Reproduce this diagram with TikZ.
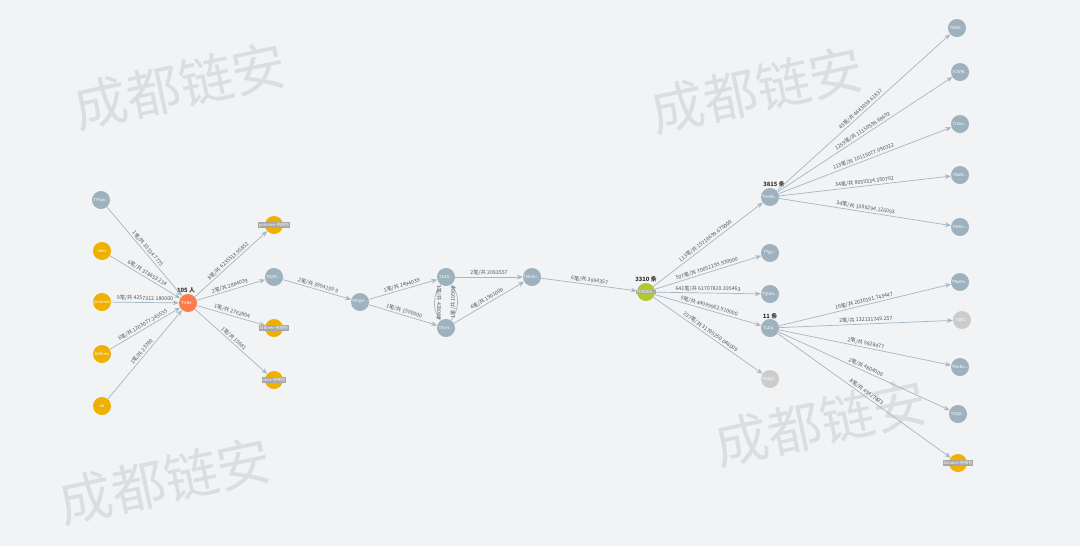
\documentclass[tikz,border=0pt]{standalone}
\usepackage{fontspec}
\setmainfont{Noto Sans CJK SC}
\usepackage{xcolor}
\definecolor{bgpage}{HTML}{F2F3F5}
\definecolor{addr}{HTML}{9DB1BE}
\definecolor{exch}{HTML}{F0B000}
\definecolor{target}{HTML}{FA7D4B}
\definecolor{hub}{HTML}{B3C72F}
\definecolor{unknown}{HTML}{CCCCCC}
\definecolor{flow}{HTML}{A3B7C4}
\definecolor{wmark}{HTML}{DCDDE0}
\definecolor{lbltext}{HTML}{555555}
\usetikzlibrary{arrows.meta}

\newcommand{\txn}[2]{#1笔/共 #2}
\newcommand{\tagbox}[1]{\makebox[0pt]{\setlength{\fboxsep}{0.6pt}\colorbox{black!35}{#1}}}

\begin{document}
\begin{tikzpicture}[x=0.03cm, y=-0.03cm, >=Stealth,
  wallet/.style={circle, minimum size=0.54cm, inner sep=0pt, text=white,
    font=\fontsize{3.5}{4}\selectfont},
  addrnode/.style={wallet, fill=addr},
  exchnode/.style={wallet, fill=exch},
  greynode/.style={wallet, fill=unknown},
  flowline/.style={draw=flow, line width=0.6pt, -{Stealth[length=5pt, width=4pt]}},
  amount/.style={midway, sloped, above, inner sep=1pt, text=lbltext,
    font=\fontsize{4.5}{5}\selectfont},
  count/.style={font=\fontsize{5}{6}\selectfont\bfseries, text=black!80},
  watermark/.style={rotate=12, text=wmark, font=\fontsize{46}{50}\selectfont}]

  \fill[bgpage] (0,0) rectangle (1080,546);
  \useasboundingbox (0,0) rectangle (1080,546);

  % Watermarks
  \node[watermark] (wm1) at (180,86)  {成都链安};
  \node[watermark] (wm2) at (757,90)  {成都链安};
  \node[watermark] (wm3) at (165,481) {成都链安};
  \node[watermark] (wm4) at (821,423) {成都链安};

  % Senders
  \node[addrnode] (tyk)  at (101,200) {TYKjw...};
  \node[exchnode] (okex) at (102,251) {okex};
  \node[exchnode] (polo) at (102,302) {poloniex};
  \node[exchnode] (bitf) at (102,354) {bitfinex};
  \node[exchnode] (ok)   at (102,406) {ok};

  % Target
  \node[wallet, fill=target] (tub) at (188,303) {TUBe...};
  \node[count] (tubcnt) at (186,290) {105 人};

  % First hop
  \node[exchnode] (pol2) at (274,225) {\tagbox{poloniex-热钱包}};
  \node[addrnode] (tkj)  at (274,277) {TKjPC...};
  \node[exchnode] (bfx)  at (274,328) {\tagbox{bitfinex-热钱包}};
  \node[exchnode] (okx)  at (274,380) {\tagbox{okex-热钱包}};

  % Middle chain
  \node[addrnode] (tay) at (360,302) {TAYgm...};
  \node[addrnode] (ted) at (446,277) {TEdG...};
  \node[addrnode] (txx) at (446,328) {TXxYx...};
  \node[addrnode] (tmm) at (532,277) {TMmhr...};

  % Hub
  \node[wallet, fill=hub] (tus) at (646,292) {\tagbox{TUSDbA...}};
  \node[count] (tuscnt) at (646,279) {3310 条};

  \node[addrnode] (ha) at (770,197) {TYaMb...};
  \node[addrnode] (hb) at (770,253) {TYgp...};
  \node[addrnode] (hc) at (770,294) {TQbDx...};
  \node[addrnode] (hd) at (770,328) {TLDp...};
  \node[greynode] (he) at (770,379) {TAdQh...};
  \node[count] (hacnt) at (774,184) {3815 条};
  \node[count] (hdcnt) at (770,316) {11 条};

  % Far right
  \node[addrnode] (ra) at (957,28)  {TMAd...};
  \node[addrnode] (rb) at (960,72)  {TCWW...};
  \node[addrnode] (rc) at (960,124) {TLBm...};
  \node[addrnode] (rd) at (960,175) {TBaM...};
  \node[addrnode] (re) at (960,227) {TWDn...};

  \node[addrnode] (sa) at (960,282) {TRoMs...};
  \node[greynode] (sb) at (962,320) {TXXG...};
  \node[addrnode] (sc) at (960,367) {TNoBu...};
  \node[addrnode] (sd) at (958,414) {TDQK...};
  \node[exchnode] (se) at (958,463) {\tagbox{binance-热钱包}};

  % Transfers
  \foreach \src/\dst/\num/\sum in {
      tyk/tub/1/10314.7775, okex/tub/6/378653.214, polo/tub/9/4257312.180000,
      bitf/tub/6/1203077.243535, ok/tub/1/23700,
      tub/pol2/8/6235513.95852, tub/tkj/2/2884039, tub/bfx/1/2762804, tub/okx/1/15681,
      tkj/tay/2/3994159.9, tay/ted/1/2494039, tay/txx/1/1500000,
      ted/tmm/2/2093557, txx/tmm/4/1901000, tmm/tus/6/3994357,
      tus/ha/113/15710699.670000, tus/hb/507/70052195.930000,
      tus/hc/641/61707820.395463, tus/hd/9/44099962.910000, tus/he/297/31705250.046009,
      ha/ra/45/4643038.61837, ha/rb/1259/11150598.68692, ha/rc/113/10115077.090312,
      ha/rd/34/8059334.350762, ha/re/34/1099294.126093,
      hd/sa/16/2030161.743447, hd/sb/2/132131749.257, hd/sc/2/9828477,
      hd/sd/2/4804000, hd/se/8/45427473}
    \draw[flowline] (\src) -- (\dst) node[amount] {\txn{\num}{\sum}};

  \draw[flowline] (ted) to[bend right=35] node[amount] {\txn{1}{433083}} (txx);
  \draw[flowline] (txx) to[bend right=35] node[amount] {\txn{1}{10903}} (ted);

\end{tikzpicture}
\end{document}
